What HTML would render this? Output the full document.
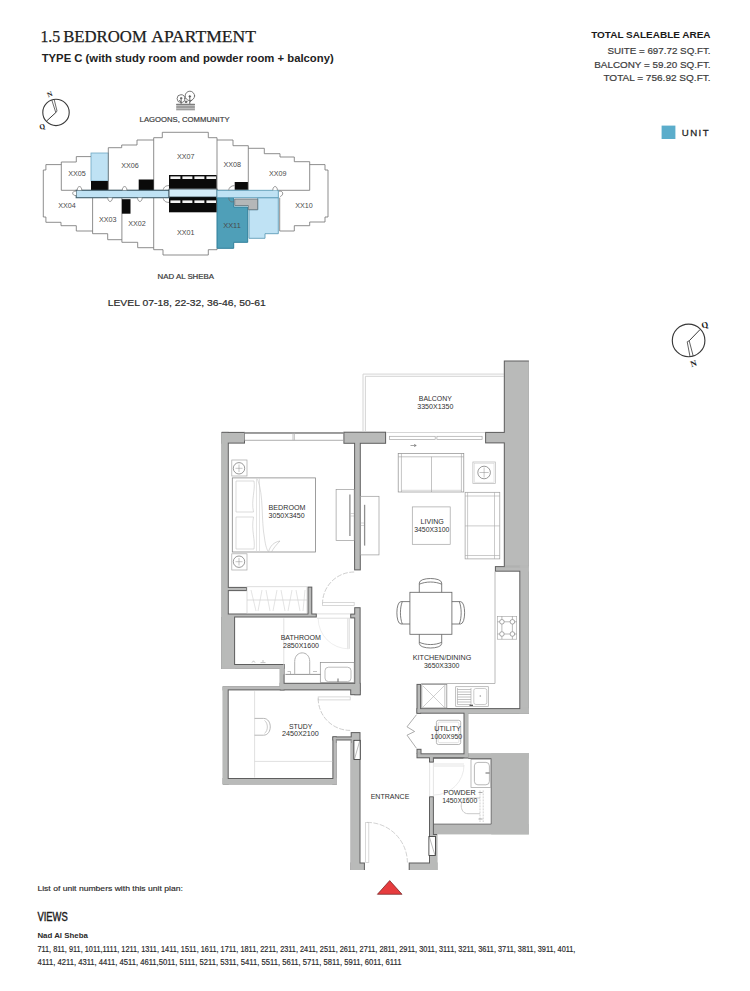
<!DOCTYPE html>
<html lang="en">
<head>
<meta charset="utf-8">
<title>1.5 Bedroom Apartment - Type C</title>
<style>
html,body{margin:0;padding:0;background:#fff;}
body{width:750px;height:991px;overflow:hidden;position:relative;}
svg{position:absolute;left:0;top:0;display:block;}
text{font-family:"Liberation Sans",Arial,sans-serif;}
.serif{font-family:"Liberation Serif","DejaVu Serif",serif;}
.lbl{font-size:7.6px;fill:#2e2e2e;text-anchor:middle;}
.kp{font-size:6.3px;fill:#4a4a4a;text-anchor:middle;}
</style>
</head>
<body>
<svg width="750" height="991" viewBox="0 0 750 991">
<rect x="0" y="0" width="750" height="991" fill="#ffffff"/>

<!-- ================= HEADER TEXT ================= -->
<g id="header">
<g class="serif" font-size="17.3" fill="#1d1d1d" stroke="#1d1d1d" stroke-width="0.25">
<text class="serif" x="40.4" y="42.1" textLength="19.8" lengthAdjust="spacingAndGlyphs">1.5</text>
<text class="serif" x="63.2" y="42.1" textLength="83.6" lengthAdjust="spacingAndGlyphs">BEDROOM</text>
<text class="serif" x="151.2" y="42.1" textLength="104.8" lengthAdjust="spacingAndGlyphs">APARTMENT</text>
</g>
<text x="41.7" y="61.6" font-size="10.4" font-weight="bold" fill="#222" textLength="292" lengthAdjust="spacingAndGlyphs">TYPE C (with study room and powder room + balcony)</text>

<text x="710.6" y="38.4" font-size="9.6" font-weight="bold" fill="#1a1a1a" text-anchor="end" textLength="119.4" lengthAdjust="spacingAndGlyphs">TOTAL SALEABLE AREA</text>
<text x="710.6" y="53.9" font-size="9.6" fill="#3c3c3c" stroke="#3c3c3c" stroke-width="0.2" text-anchor="end" textLength="103.2" lengthAdjust="spacingAndGlyphs">SUITE = 697.72 SQ.FT.</text>
<text x="710.6" y="67.5" font-size="9.6" fill="#3c3c3c" stroke="#3c3c3c" stroke-width="0.2" text-anchor="end" textLength="116.3" lengthAdjust="spacingAndGlyphs">BALCONY = 59.20 SQ.FT.</text>
<text x="710.6" y="80.7" font-size="9.6" fill="#3c3c3c" stroke="#3c3c3c" stroke-width="0.2" text-anchor="end" textLength="107.2" lengthAdjust="spacingAndGlyphs">TOTAL = 756.92 SQ.FT.</text>

<rect x="661.6" y="125.6" width="13.8" height="13.4" fill="#5badcb"/>
<text x="681.8" y="136.3" font-size="9.7" fill="#1f1f1f" textLength="26.8" lengthAdjust="spacing" stroke="#1f1f1f" stroke-width="0.28">UNIT</text>
</g>

<!-- ================= KEY PLAN TEXT ================= -->
<g id="kptext">
<text x="139.6" y="121.8" font-size="7.6" fill="#3a3a3a" stroke="#3a3a3a" stroke-width="0.18" textLength="90" lengthAdjust="spacingAndGlyphs">LAGOONS, COMMUNITY</text>
<text x="157.6" y="278.9" font-size="6.9" fill="#3a3a3a" stroke="#3a3a3a" stroke-width="0.2" textLength="56.4" lengthAdjust="spacingAndGlyphs">NAD AL SHEBA</text>
<text x="107.7" y="305.8" font-size="9.7" fill="#2b2b2b" stroke="#2b2b2b" stroke-width="0.2" textLength="158" lengthAdjust="spacingAndGlyphs">LEVEL 07-18, 22-32, 36-46, 50-61</text>
</g>

<!-- ================= KEY PLAN ================= -->
<g id="keyplan" fill="none" stroke="#7a7a7a" stroke-width="0.85" stroke-linejoin="miter">
  <!-- fills first -->
  <rect x="91" y="153" width="17.3" height="28" fill="#bfe2f4" stroke="#6fa9c4" stroke-width="0.8"/>
  <rect x="91" y="181" width="17.3" height="9.3" fill="#0a0a0a" stroke="none"/>
  <!-- light blue neighbour unit -->
  <path d="M257.7 197.7H278.3V233.7H265V238.3H249V209.7H257.7Z" fill="#bfe2f4" stroke="#5f9db8" stroke-width="0.9"/>
  <!-- XX11 highlighted -->
  <path d="M217 197.7H233.7V207H247.7V242.3H233.7V248.3H217Z" fill="#4f9fb8" stroke="#2f7f9a" stroke-width="1"/>
  <!-- grey core piece -->
  <path d="M234.7 199H257.7V209.7H248.3V205.5H234.7Z" fill="#b5b7b8" stroke="#5f6f76" stroke-width="0.8"/>

  <!-- unit outlines: upper half -->
  <path d="M61.3 190.3V162H76.3V156.6H91"/>
  <path d="M61.3 190.3H91"/>
  <path d="M108.3 190V147.7H121.7V145H137V140H153.7"/>
  <path d="M153.7 190.3V137.7H162.3V132.3H208.3V137.7H217V190.3"/>
  <path d="M217 140H233V145.7H248.3V190.3"/>
  <path d="M248.3 148.3H264.3V153.7H280V157H294.3V161.7H309.7V190.3H278.3"/>
  <path d="M309.7 164.6H325V170H328V217H325V222H309.7V225.7H294.3V231H279.7V197.7"/>
  <!-- lower half -->
  <path d="M61.3 164.6H45.9V170H43.3V217H45.9V222.3H61V225.7H76.3V231H92.6"/>
  <path d="M92.6 197.7V233.7H107.7V239.7H121.9"/>
  <path d="M121.9 197.7V242.3H137.7V247.7H153.7"/>
  <path d="M153.7 197.7V249.7H163V255H208.3V249.7H217V248.3"/>
  <path d="M108.3 190.3H169M217 190.3H248.3"/>

  <!-- black cores -->
  <g stroke="none" fill="#0a0a0a">
    <rect x="138.7" y="179.5" width="15" height="10.8"/>
    <rect x="121.9" y="199.2" width="8.6" height="14.5"/>
    <rect x="234.7" y="182" width="13.2" height="7.8"/>
    <rect x="169" y="175" width="47.6" height="13.7"/>
    <rect x="169" y="197" width="47.6" height="15.3"/>
  </g>
  <g stroke="none" fill="#f4f4f4">
    <rect x="170.4" y="176.4" width="10" height="2.6"/><rect x="182.4" y="176.4" width="10" height="2.6"/><rect x="194.4" y="176.4" width="10" height="2.6"/><rect x="206.4" y="176.4" width="9.6" height="2.6"/>
    <rect x="170.4" y="200.4" width="10" height="2.6"/><rect x="182.4" y="200.4" width="10" height="2.6"/><rect x="194.4" y="200.4" width="10" height="2.6"/><rect x="206.4" y="200.4" width="9.6" height="2.6"/>
  </g>

  <!-- corridor -->
  <rect x="76.2" y="190.3" width="93" height="7.4" fill="#bfe2f4" stroke="#42606e" stroke-width="1.1"/>
  <rect x="169" y="189" width="48" height="8" fill="#d4ecf8" stroke="#1c2a30" stroke-width="0.7"/>
  <rect x="217" y="190.3" width="61.3" height="7.4" fill="#bfe2f4" stroke="#5d9db8" stroke-width="0.9"/>

  <!-- door arcs -->
  <g stroke="#6a6a6a" stroke-width="0.7" fill="#fff">
    <path d="M77.200 190.300C77.200 185.300 81.800 185.300 81.800 190.300"/>
    <path d="M76.200 191C71.500 191 71.500 195.600 76.200 195.600"/>
    <path d="M122.300 190.300C122.300 185.300 126.900 185.300 126.900 190.300"/>
    <path d="M107.800 197.700C107.800 202.700 112.400 202.700 112.400 197.700"/>
    <path d="M137.600 197.700C137.600 202.700 142.200 202.700 142.200 197.700"/>
    <path d="M169 185.600C165 185.600 163.300 187.800 163.300 190.300"/>
    <path d="M169 202.400C165 202.400 163.300 200.200 163.300 197.700"/>
    <path d="M234.700 185.600C230.800 185.600 228.800 187.800 228.800 190.300"/>
    <path d="M272.800 190.300C272.800 185.300 277.400 185.300 277.400 190.300"/>
    <path d="M278.800 191.200C283.500 190.500 284 195 280.200 196.600" fill="none"/>
    <path d="M228.800 197.700C228.800 200.700 231 202.700 233.700 201.600" fill="none"/>
  </g>
</g>
<g id="kplabels">
  <text class="kp" x="77" y="176" textLength="17.600" lengthAdjust="spacingAndGlyphs">XX05</text>
  <text class="kp" x="67" y="208.300" textLength="17.600" lengthAdjust="spacingAndGlyphs">XX04</text>
  <text class="kp" x="107.700" y="221.600" textLength="17.600" lengthAdjust="spacingAndGlyphs">XX03</text>
  <text class="kp" x="137" y="225.600" textLength="17.600" lengthAdjust="spacingAndGlyphs">XX02</text>
  <text class="kp" x="130" y="167.500" textLength="17.600" lengthAdjust="spacingAndGlyphs">XX06</text>
  <text class="kp" x="185.700" y="158.600" textLength="17.600" lengthAdjust="spacingAndGlyphs">XX07</text>
  <text class="kp" x="185.700" y="234.600" textLength="17.600" lengthAdjust="spacingAndGlyphs">XX01</text>
  <text class="kp" x="232.300" y="167.300" textLength="17.600" lengthAdjust="spacingAndGlyphs">XX08</text>
  <text class="kp" x="277.700" y="176" textLength="17.600" lengthAdjust="spacingAndGlyphs">XX09</text>
  <text class="kp" x="304" y="208.300" textLength="17.600" lengthAdjust="spacingAndGlyphs">XX10</text>
  <text class="kp" x="232" y="228" fill="#1d4b5c" textLength="17.600" lengthAdjust="spacingAndGlyphs">XX11</text>
</g>


<!-- ================= COMPASS + ICON ================= -->
<g id="icon" fill="none" stroke="#6a6a6a" stroke-width="0.9" stroke-linecap="round">
  <circle cx="181" cy="98.6" r="3.9"/>
  <circle cx="189.9" cy="95.9" r="4.7" fill="#fff"/>
  <path d="M181.100 98.500V104.200M189.800 96.500V104.200M179.500 100.500L181.100 101.800M191.800 100.300L189.800 102" stroke-width="1"/>
  <circle cx="186" cy="101.800" r="0.9" fill="#555"/>
  <circle cx="181.100" cy="98.200" r="0.7" fill="#444"/><circle cx="189.800" cy="96.400" r="0.8" fill="#444"/>
  <path d="M176.600 104.400H194.500M176.600 106.100H194.500M176.600 107.900H194.500M176.600 109.700H194.500" stroke="#7d7d7d" stroke-width="1.1"/>
</g>
<g id="compass1" fill="none" stroke="#3a3a3a" stroke-width="1.1">
  <circle cx="56" cy="112.400" r="13.200"/>
  <path d="M55.800 112.600L57 111L54.200 99.600M55.800 112.600L51.800 100" stroke-width="0.75"/>
  <path d="M55.800 112.600L46.600 121" stroke-width="1"/>
  <text class="serif" x="0" y="0" transform="translate(50.600 96.500) rotate(-22)" font-size="7.200" font-weight="bold" fill="#1a1a1a" stroke="none" text-anchor="middle">N</text>
  <text class="serif" x="0" y="0" transform="translate(43 129) rotate(-18)" font-size="7.200" font-weight="bold" fill="#1a1a1a" stroke="none" text-anchor="middle">Q</text>
</g>
<g id="compass2" fill="none" stroke="#3a3a3a" stroke-width="1.15">
  <circle cx="688.600" cy="340.400" r="16.300"/>
  <path d="M689.200 340.800L687.200 341.800L690 356.600M689.200 340.800L693.200 356" stroke-width="0.8"/>
  <path d="M689.200 340.800L700.200 329.400" stroke-width="1"/>
  <text class="serif" x="0" y="0" transform="translate(694.400 366.400) rotate(-18)" font-size="8.600" font-weight="bold" fill="#1a1a1a" stroke="none" text-anchor="middle">N</text>
  <text class="serif" x="0" y="0" transform="translate(705.400 327.600) rotate(-15)" font-size="8.600" font-weight="bold" fill="#1a1a1a" stroke="none" text-anchor="middle">Q</text>
</g>


<!-- ================= FLOOR PLAN ================= -->
<defs>
  <filter id="erode" filterUnits="userSpaceOnUse" x="190" y="350" width="360" height="540"><feMorphology operator="erode" radius="0.9"/></filter>
  <g id="walls">
    <!-- bedroom -->
    <rect x="221.600" y="431.900" width="23.400" height="11.700"/>
    <rect x="221.600" y="431.900" width="7.200" height="186"/>
    <rect x="228" y="586.900" width="19" height="4.200"/>
    <rect x="228" y="613.500" width="88.800" height="4"/>
    <rect x="307.500" y="586.600" width="4.800" height="28"/>
    <rect x="343.400" y="431.700" width="42.700" height="12.100"/>
    <rect x="354.100" y="443" width="6.700" height="127.400"/>
    <!-- bathroom -->
    <rect x="221.400" y="617" width="13.700" height="51.800"/>
    <rect x="221.400" y="664" width="63.200" height="4.800"/>
    <rect x="279.800" y="664" width="4.800" height="22"/>
    <rect x="279.800" y="682.800" width="80.800" height="7.600"/>
    <rect x="354.200" y="607.200" width="6.400" height="88"/>
    <rect x="350.200" y="613.600" width="5" height="4.800"/>
    <rect x="350.200" y="690" width="10.400" height="5.200"/>
    <!-- study -->
    <rect x="222.800" y="686.400" width="61.800" height="4"/>
    <rect x="222.800" y="686.400" width="5.900" height="98"/>
    <rect x="222.800" y="778" width="114" height="6.400"/>
    <rect x="332.400" y="736.400" width="4.400" height="48"/>
    <rect x="332.400" y="736.400" width="19" height="4.100"/>
    <!-- entrance left -->
    <rect x="350.700" y="732.100" width="9.800" height="137.900"/>
    <rect x="350.700" y="862.500" width="14.200" height="7.500"/>
    <!-- right big wall -->
    <rect x="503.800" y="360.500" width="25.100" height="206"/>
    <rect x="485.100" y="431.900" width="19" height="11.500"/>
    <rect x="494.900" y="566.100" width="34" height="5.600"/>
    <rect x="519.300" y="566.100" width="9.600" height="147.600"/>
    <!-- kitchen -->
    <rect x="416.500" y="708.100" width="112.400" height="5.600"/>
    <rect x="416.500" y="683.900" width="4.600" height="29.800"/>
    <!-- utility -->
    <rect x="463.500" y="713" width="4.700" height="45.300"/>
    <rect x="416.500" y="753.300" width="51.700" height="5"/>
    <rect x="416.500" y="748.800" width="5" height="5"/>
    <rect x="429" y="758" width="4.900" height="4.600"/>
    <!-- powder / entrance right -->
    <rect x="429" y="796.300" width="4.900" height="38.100"/>
    <rect x="429" y="834" width="8.200" height="36"/>
    <rect x="408.700" y="862.500" width="28.500" height="7.500"/>
  </g>
  <g id="ext">
    <rect x="200" y="431.900" width="23.800" height="380"/>
    <rect x="200" y="667.800" width="80.800" height="19.600"/>
    <rect x="200" y="783.400" width="140" height="20"/>
    <rect x="335.800" y="741.500" width="15.900" height="140"/>
    <rect x="335.800" y="869" width="115" height="12"/>
    <rect x="436.200" y="823" width="100" height="58"/>
    <rect x="527.900" y="360.500" width="12" height="480"/>
    <rect x="467.200" y="712.700" width="72" height="46"/>
  </g>
  <mask id="wm" maskUnits="userSpaceOnUse" x="190" y="350" width="360" height="540"><use href="#walls" fill="#fff"/></mask>
</defs>

<!-- balcony (very light) -->
<g fill="none" stroke="#cfcfcf" stroke-width="0.9">
  <path d="M363 431V374.100H503.800"/>
  <path d="M365.400 431V376.300H503.800"/>
</g>

<!-- powder grey block (no outline outside) -->
<g fill="#b7b8b7" stroke="none">
  <rect x="468.200" y="753.100" width="60.700" height="5.400"/>
  <rect x="491.200" y="753.100" width="37.700" height="81.300"/>
  <rect x="429" y="824.100" width="99.900" height="10.300"/>
</g>

<use href="#walls" fill="#5e5e5e" stroke="none"/>
<g mask="url(#wm)"><g filter="url(#erode)" fill="#b9bab9"><use href="#walls"/><use href="#ext"/></g></g>
<!-- powder room inside outline -->
<path d="M433.900 824.100H491.200V758.500H468.200" fill="none" stroke="#5a5a5a" stroke-width="0.8"/>
<path d="M433.900 758.300H463.500" fill="none" stroke="#5a5a5a" stroke-width="0.8"/>

<!-- windows -->
<g fill="#fff" stroke="#8a8a8a" stroke-width="0.7">
  <rect x="244.600" y="432.600" width="98.900" height="7.600"/>
  <path d="M244.600 433.200H343.500" stroke="#666" stroke-width="0.9"/>
  <path d="M293 432.600V440.200M294.400 432.600V440.200" stroke="#aaa"/>
</g>
<g fill="none" stroke="#b4b4b4" stroke-width="0.7">
  <path d="M386.200 432.500H485.100" stroke="#c4c4c4"/>
  <rect x="389.600" y="436.300" width="45.600" height="3.100" stroke="#a6a6a6"/>
  <rect x="436.900" y="436.300" width="45.200" height="3.100" stroke="#a6a6a6"/>
  <path d="M410.500 445.500H416M414 444.300L416.300 445.500L414 446.700" stroke="#666" stroke-width="0.6"/>
</g>
<!-- ===== furniture / fixtures ===== -->
<g id="furn" fill="none" stroke="#8a8a8a" stroke-width="0.7">
  <!-- nightstands -->
  <rect x="231.800" y="460" width="15.200" height="16" stroke="#a5a5a5"/>
  <circle cx="239" cy="468.300" r="5.700" stroke="#6e6e6e"/>
  <path d="M239 464.500V472M235.500 468.300H242.500" stroke="#8a8a8a" stroke-width="0.5"/>
  <rect x="231.800" y="553.800" width="15.200" height="16.200" stroke="#a5a5a5"/>
  <circle cx="239" cy="561.700" r="5.700" stroke="#6e6e6e"/>
  <path d="M239 558V565.500M235.500 561.700H242.500" stroke="#8a8a8a" stroke-width="0.5"/>
  <!-- bed -->
  <rect x="232.300" y="477.900" width="83.200" height="74.100" stroke="#858585" stroke-width="0.8"/>
  <g stroke="#c4c4c4" stroke-width="0.6">
    <path d="M236 481H254C255.500 490 251 500 253.500 512H236Z"/>
    <path d="M236 517H253.500C251 530 255.500 540 254 549H236Z"/>
    <path d="M256.500 478V552M259.500 478V552" stroke="#d4d4d4"/>
    <path d="M257.500 479C264 496 261 520 264.500 538C265.500 546 267 550 268.500 552"/>
    <path d="M268.500 552C270 546 274 542 280 541C276 545 273 549 271.500 552" stroke="#bcbcbc"/>
  </g>
  <!-- tv units -->
  <rect x="336.100" y="489.600" width="18.100" height="50.900" stroke="#9a9a9a"/>
  <path d="M349.900 494.400V536" stroke="#8f8f8f" stroke-width="1.300"/>
  <path d="M350.500 513.500H354M350.500 516H354" stroke="#aaa" stroke-width="0.5"/>
  <rect x="360.600" y="496.300" width="18.400" height="58.600" stroke="#9a9a9a"/>
  <path d="M364.600 504.800V545.600" stroke="#8f8f8f" stroke-width="1.300"/>
  <path d="M360.800 523H364M360.800 525.500H364" stroke="#aaa" stroke-width="0.5"/>
  <!-- sofa 1 -->
  <g stroke="#8c8c8c" stroke-width="0.7">
    <rect x="398.200" y="453.600" width="65.600" height="38.400"/>
    <path d="M398.200 456.800H463.800M401.400 453.600V492M461.400 453.600V492M431.500 456.800V492" stroke="#9c9c9c" stroke-width="0.6"/>
    <path d="M401.400 490.300H461.400" stroke="#b0b0b0" stroke-width="0.5"/>
  </g>
  <!-- side table -->
  <rect x="472.900" y="462" width="22.400" height="21.500" stroke="#b5b5b5"/>
  <rect x="474.200" y="463.300" width="19.800" height="18.900" stroke="#cfcfcf" stroke-width="0.5"/>
  <circle cx="484.100" cy="472.500" r="6.300" stroke="#6e6e6e"/>
  <path d="M484.100 467.500V477.500M479.500 472.500H488.700" stroke="#8a8a8a" stroke-width="0.5"/>
  <!-- sofa 2 -->
  <g stroke="#9c9c9c" stroke-width="0.7">
    <rect x="465.100" y="492.300" width="34.700" height="66.600"/>
    <path d="M467.600 492.300V558.900M494.500 492.300V558.900M465.100 496H499.800M465.100 525.900H499.800M465.100 555.500H499.800" stroke="#a8a8a8" stroke-width="0.6"/>
  </g>
  <!-- coffee table -->
  <rect x="412.300" y="506.900" width="37.900" height="37.400" stroke="#a2a2a2"/>
  <!-- wardrobe -->
  <g stroke="#c6c6c6" stroke-width="0.6">
    <rect x="247" y="586.800" width="60" height="26.800"/>
    <path d="M247 600H307"/>
    <path d="M251 590L256 611M258 611L262 590M266 590L270 611M273 611L277 590M281 590L285 611M288 611L292 590M296 590L300 611M303 611L305 590" stroke="#d2d2d2"/>
  </g>
  <!-- bedroom door -->
  <g stroke="#c2c2c2" stroke-width="0.8">
    <path d="M354.200 572A31.700 31.700 0 0 0 322.500 604" stroke-dasharray="5 1.500"/>
    <rect x="322.500" y="602.600" width="31.700" height="3" stroke="#cfcfcf"/>
  </g>
  <!-- bathroom door -->
  <g stroke="#d0d0d0" stroke-width="0.7">
    <path d="M317 613.900H350.200M317 618.200H350.200"/>
    <path d="M347.800 618.400V648.800M349.300 618.400V648.800"/>
    <path d="M348.600 648.800A30.400 30.400 0 0 1 318.200 618.400" stroke="#e6e6e6"/>
  </g>
  <!-- shower screen / fittings -->
  <path d="M283.800 618.400V674.400" stroke="#d4d4d4"/>
  <path d="M252 662.600L253.500 660.800L255 662.600M260.500 662.600H265.500M262 661H264" stroke="#9a9a9a" stroke-width="0.6"/>
  <!-- toilet -->
  <g stroke="#9a9a9a" stroke-width="0.8">
    <path d="M285.400 674.400H320.600" stroke="#777"/>
    <path d="M294.700 674.400V661.500C294.700 650 309.700 650 309.700 661.500V674.400" stroke="#b0b0b0" stroke-width="1"/>
    <path d="M287.500 671.500H290.500V674M313 671.500H317" stroke="#999" stroke-width="0.6"/>
  </g>
  <!-- vanity -->
  <rect x="320.300" y="662.400" width="33.900" height="20" stroke="#8c8c8c"/>
  <rect x="325" y="667.200" width="26" height="14.400" rx="3.500" stroke="#a0a0a0"/>
  <path d="M338 678.500V681.800" stroke="#555" stroke-width="0.9"/>
  <!-- dining -->
  <g stroke="#686868" stroke-width="0.85">
    <rect x="409.900" y="592.300" width="42" height="42" fill="#fff"/>
    <path d="M419.300 592.300V583C419.300 577 441.700 577 441.700 583V592.300M419.300 584.200C426 581.300 435 581.300 441.700 584.200"/>
    <path d="M419.300 634.300V643.500C419.300 649.500 441.700 649.500 441.700 643.500V634.300M419.300 642.300C426 645.300 435 645.300 441.700 642.300"/>
    <path d="M409.900 601.600H401C395.500 601.600 395.500 624 401 624H409.900M402.300 601.600C399.800 608 399.800 617.600 402.300 624"/>
    <path d="M451.900 601.600H460.500C466 601.600 466 624 460.500 624H451.900M459.300 601.600C461.800 608 461.800 617.600 459.300 624"/>
  </g>
  <!-- kitchen counter -->
  <path d="M495 571.700V683.500H421.100" stroke="#a8a8a8" stroke-width="0.8"/>
  <!-- hob -->
  <g stroke="#6f6f6f" stroke-width="0.6">
    <rect x="497.500" y="616.300" width="19.200" height="22.900" stroke="#a0a0a0"/>
    <circle cx="501.900" cy="621.800" r="2.300"/><circle cx="512.400" cy="621.800" r="2.300"/>
    <circle cx="501.900" cy="634" r="2.300"/><circle cx="512.400" cy="634" r="2.300"/>
    <path d="M504.200 621.800H510.100M504.200 634H510.100M501.900 624.100V631.700M512.400 624.100V631.700M497.500 621.800H499.600M514.700 621.800H516.700M497.500 634H499.600M514.700 634H516.700M501.900 616.300V619.500M512.400 616.300V619.500M501.900 636.300V639.200M512.400 636.300V639.200" stroke="#8a8a8a"/>
  </g>
  <!-- fridge -->
  <g stroke="#8a8a8a" stroke-width="0.8">
    <rect x="421.800" y="684.600" width="25" height="23.400" stroke="#909090"/>
    <path d="M444.800 684.600V708" stroke="#a0a0a0" stroke-width="0.6"/>
    <path d="M423 686L444 707M444 686L423 707" stroke="#b0b0b0" stroke-width="0.6"/>
  </g>
  <!-- sink -->
  <g stroke="#8f8f8f" stroke-width="0.7">
    <rect x="455.700" y="686.700" width="32.600" height="19.600" stroke="#a4a4a4"/>
    <path d="M457.500 689.500H471M457.500 692H471M457.500 694.500H471M457.500 697H471M457.500 699.500H471M457.500 702H471" stroke="#9a9a9a" stroke-width="0.6"/>
    <path d="M457.500 688V704.500H471V688" stroke="#a4a4a4" stroke-width="0.6"/>
    <rect x="473.800" y="688.500" width="13" height="16" rx="2" stroke="#b5b5b5"/>
    <circle cx="480.300" cy="696" r="0.800" fill="#999" stroke="none"/>
    <path d="M469.500 705.300H473" stroke="#444" stroke-width="1.200"/>
  </g>
  <!-- utility bifold door + washer -->
  <path d="M416.500 714.700L407 726.800L414.600 731.500L407 735.200L416.500 748.300" stroke="#8a8a8a" stroke-width="0.7"/>
  <rect x="436.400" y="720.300" width="24.300" height="24.200" rx="2" stroke="#9a9a9a"/>
  <rect x="438.200" y="722.100" width="20.700" height="20.600" rx="1.500" stroke="#c4c4c4" stroke-width="0.5"/>
  <!-- study door -->
  <g stroke="#c2c2c2" stroke-width="0.8">
    <rect x="318.200" y="696.900" width="32" height="3" stroke="#cfcfcf"/>
    <path d="M318.200 698.400A32 32 0 0 0 350.200 730.400" stroke-dasharray="5 1.500"/>
  </g>
  <!-- study desk + chair -->
  <path d="M254.600 691.200V777.500M254.600 761.400H332.400" stroke="#d2d2d2"/>
  <g stroke="#9a9a9a" stroke-width="0.7">
    <path d="M254.600 718.400H263.500C272.500 718.400 272.500 735.200 263.500 735.200H254.600"/>
    <path d="M264.500 720.500C268.300 723 268.300 731 264.500 733.300" stroke="#b5b5b5"/>
  </g>
  <!-- panel boxes -->
  <g stroke="#2e2e2e" stroke-width="0.8" fill="#fff">
    <rect x="353.900" y="740.300" width="6.300" height="19.300"/>
    <path d="M359.700 741L354.500 759" stroke="#777" stroke-width="0.5"/>
    <rect x="428.900" y="836.400" width="6.500" height="19"/>
    <path d="M429.400 837L434.900 855" stroke="#777" stroke-width="0.5"/>
  </g>
  <!-- entrance door -->
  <g stroke="#c6c6c6" stroke-width="0.8">
    <rect x="365.600" y="822.400" width="3.200" height="40.100" stroke="#cfcfcf"/>
    <path d="M367 822.400A40.400 40.400 0 0 1 407.400 862.500" stroke-dasharray="5 1.500"/>
  </g>
  <!-- powder door -->
  <g stroke="#dadada" stroke-width="0.7">
    <path d="M429.600 762.800V796.300M433.400 762.800V796.300"/>
    <path d="M434 764H464M434 766H464"/>
    <path d="M464 765A30 30 0 0 1 434 795" stroke="#e2e2e2"/>
  </g>
  <!-- powder basin -->
  <rect x="471" y="759.600" width="19.800" height="28" stroke="#a0a0a0"/>
  <rect x="474.400" y="762.400" width="15" height="22.400" rx="3.500" stroke="#b0b0b0" stroke-width="0.9"/>
  <path d="M485.500 773H489.500" stroke="#555" stroke-width="0.9"/>
  <!-- powder wc -->
  <g stroke="#bdbdbd" stroke-width="0.7">
    <path d="M480 790.400V822M483.200 790.400V822" stroke-dasharray="2 1"/>
    <path d="M480 798H468C459 798 459 813.700 468 813.700H480" stroke="#c4c4c4" stroke-width="0.9"/>
    <path d="M478.500 792.500H482.500M478.500 819H482.500" stroke="#8a8a8a"/>
  </g>
</g>
<!-- entrance marker -->
<polygon points="389.700,880.600 377.400,894.300 402,894.300" fill="#e63c3e" stroke="#6e2020" stroke-width="0.700"/>

<!-- ===== room labels ===== -->
<g id="labels">
  <text class="lbl" x="435.300" y="401.300" textLength="33" lengthAdjust="spacingAndGlyphs">BALCONY</text>
  <text class="lbl" x="435.300" y="409.300" textLength="36" lengthAdjust="spacingAndGlyphs">3350X1350</text>
  <text class="lbl" x="287" y="509.600" textLength="36.800" lengthAdjust="spacingAndGlyphs">BEDROOM</text>
  <text class="lbl" x="286.600" y="517.900" textLength="36" lengthAdjust="spacingAndGlyphs">3050X3450</text>
  <text class="lbl" x="432.200" y="524.300" textLength="23.200" lengthAdjust="spacingAndGlyphs">LIVING</text>
  <text class="lbl" x="431.800" y="532.200" textLength="35.200" lengthAdjust="spacingAndGlyphs">3450X3100</text>
  <text class="lbl" x="300.800" y="640" textLength="40.300" lengthAdjust="spacingAndGlyphs">BATHROOM</text>
  <text class="lbl" x="301" y="647.600" textLength="36" lengthAdjust="spacingAndGlyphs">2850X1600</text>
  <text class="lbl" x="442" y="660" textLength="58.500" lengthAdjust="spacingAndGlyphs">KITCHEN/DINING</text>
  <text class="lbl" x="441.700" y="668.400" textLength="35.500" lengthAdjust="spacingAndGlyphs">3650X3300</text>
  <text class="lbl" x="300.600" y="728.500" textLength="23.400" lengthAdjust="spacingAndGlyphs">STUDY</text>
  <text class="lbl" x="300.300" y="736.300" textLength="36.800" lengthAdjust="spacingAndGlyphs">2450X2100</text>
  <text class="lbl" x="447.500" y="731.100" textLength="26.500" lengthAdjust="spacingAndGlyphs">UTILITY</text>
  <text class="lbl" x="446.400" y="738.900" textLength="31.700" lengthAdjust="spacingAndGlyphs">1000X950</text>
  <text class="lbl" x="390" y="799" textLength="38.700" lengthAdjust="spacingAndGlyphs">ENTRANCE</text>
  <text class="lbl" x="459.600" y="795.400" textLength="32.300" lengthAdjust="spacingAndGlyphs">POWDER</text>
  <text class="lbl" x="459.700" y="803.100" textLength="35.100" lengthAdjust="spacingAndGlyphs">1450X1600</text>
</g>



<!-- ================= FOOTER TEXT ================= -->
<g id="footer">
<text x="37.4" y="891" font-size="7.2" fill="#2a2a2a" textLength="145.5" lengthAdjust="spacingAndGlyphs" stroke="#2a2a2a" stroke-width="0.15">List of unit numbers with this unit plan:</text>
<text x="37.4" y="920.9" font-size="12.9" fill="#1d1d1d" textLength="30.3" lengthAdjust="spacingAndGlyphs" stroke="#1d1d1d" stroke-width="0.45">VIEWS</text>
<text x="37.4" y="938.4" font-size="7.6" font-weight="bold" fill="#2a2a2a" textLength="50.5" lengthAdjust="spacingAndGlyphs">Nad Al Sheba</text>
<text x="37.4" y="952" font-size="8.4" fill="#2a2a2a" stroke="#2a2a2a" stroke-width="0.18" textLength="538" lengthAdjust="spacingAndGlyphs">711, 811, 911, 1011,1111, 1211, 1311, 1411, 1511, 1611, 1711, 1811, 2211, 2311, 2411, 2511, 2611, 2711, 2811, 2911, 3011, 3111, 3211, 3611, 3711, 3811, 3911, 4011,</text>
<text x="37.4" y="964.7" font-size="8.4" fill="#2a2a2a" stroke="#2a2a2a" stroke-width="0.18" textLength="364" lengthAdjust="spacingAndGlyphs">4111, 4211, 4311, 4411, 4511, 4611,5011, 5111, 5211, 5311, 5411, 5511, 5611, 5711, 5811, 5911, 6011, 6111</text>
</g>
</svg>
</body>
</html>
